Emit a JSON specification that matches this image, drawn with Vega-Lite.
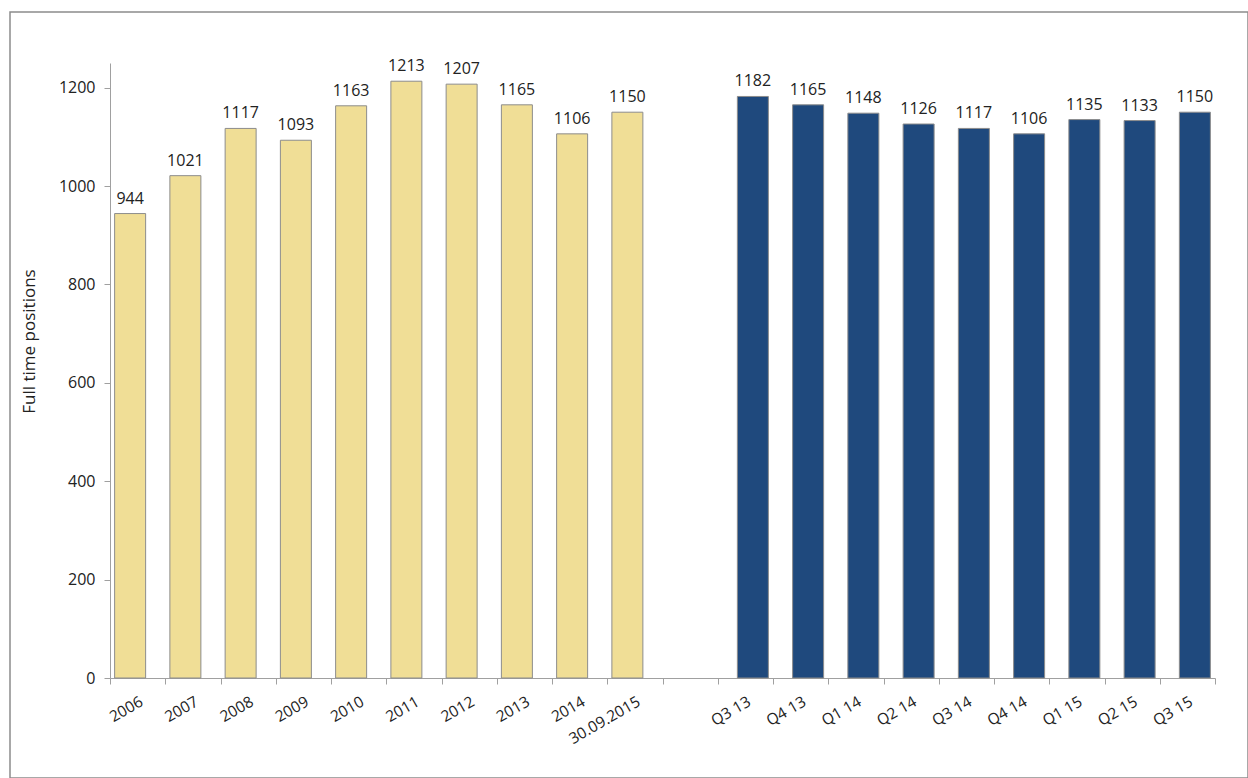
{
  "$schema": "https://vega.github.io/schema/vega-lite/v6.json",
  "width": 1238,
  "height": 766,
  "autosize": {"type": "none"},
  "padding": {"left": 10, "top": 12, "right": 0, "bottom": 0},
  "background": "white",
  "config": {
    "font": "Open Sans",
    "view": {"stroke": "#8c8c8c", "strokeWidth": 1.5}
  },
  "data": {
    "values": [
      {"period": "2006", "series": "Annual", "positions": 944},
      {"period": "2007", "series": "Annual", "positions": 1021},
      {"period": "2008", "series": "Annual", "positions": 1117},
      {"period": "2009", "series": "Annual", "positions": 1093},
      {"period": "2010", "series": "Annual", "positions": 1163},
      {"period": "2011", "series": "Annual", "positions": 1213},
      {"period": "2012", "series": "Annual", "positions": 1207},
      {"period": "2013", "series": "Annual", "positions": 1165},
      {"period": "2014", "series": "Annual", "positions": 1106},
      {"period": "30.09.2015", "series": "Annual", "positions": 1150},
      {"period": "Q3 13", "series": "Quarterly", "positions": 1182},
      {"period": "Q4 13", "series": "Quarterly", "positions": 1165},
      {"period": "Q1 14", "series": "Quarterly", "positions": 1148},
      {"period": "Q2 14", "series": "Quarterly", "positions": 1126},
      {"period": "Q3 14", "series": "Quarterly", "positions": 1117},
      {"period": "Q4 14", "series": "Quarterly", "positions": 1106},
      {"period": "Q1 15", "series": "Quarterly", "positions": 1135},
      {"period": "Q2 15", "series": "Quarterly", "positions": 1133},
      {"period": "Q3 15", "series": "Quarterly", "positions": 1150}
    ]
  },
  "encoding": {
    "x": {
      "field": "period",
      "type": "nominal",
      "scale": {
        "domain": ["2006", "2007", "2008", "2009", "2010", "2011", "2012", "2013", "2014", "30.09.2015", "gap", "Q3 13", "Q4 13", "Q1 14", "Q2 14", "Q3 14", "Q4 14", "Q1 15", "Q2 15", "Q3 15"],
        "range": [100, 1205],
        "paddingInner": 0,
        "paddingOuter": 0
      },
      "axis": {
        "title": null,
        "offset": -100,
        "labelAngle": -30,
        "labelAlign": "right",
        "labelBaseline": "top",
        "labelPadding": 10,
        "labelFontSize": 15.5,
        "labelColor": "#222222",
        "labelOverlap": false,
        "labelExpr": "datum.value == 'gap' ? '' : datum.value",
        "tickBand": "extent",
        "tickSize": 6,
        "tickColor": "#a0a0a0",
        "domainColor": "#a0a0a0",
        "grid": false
      }
    },
    "xOffset": {
      "field": "series",
      "type": "nominal",
      "scale": {"domain": ["Annual", "Quarterly"], "paddingInner": 0, "paddingOuter": 0.843}
    },
    "y": {
      "field": "positions",
      "type": "quantitative",
      "scale": {"domain": [0, 1250], "range": [666, 51], "nice": false},
      "axis": {
        "title": "Full time positions",
        "titleFontSize": 17,
        "titleFontWeight": "normal",
        "titleColor": "#222222",
        "titlePadding": 20,
        "titleY": 329,
        "offset": -100,
        "values": [0, 200, 400, 600, 800, 1000, 1200],
        "format": "d",
        "labelFontSize": 16,
        "labelColor": "#222222",
        "labelPadding": 9,
        "tickSize": 6,
        "tickColor": "#a0a0a0",
        "domainColor": "#a0a0a0",
        "grid": false
      }
    }
  },
  "layer": [
    {
      "mark": {"type": "bar", "width": 31, "stroke": "#8c8c8c", "strokeWidth": 1},
      "encoding": {
        "color": {
          "field": "series",
          "type": "nominal",
          "scale": {"domain": ["Annual", "Quarterly"], "range": ["#F0DE96", "#1F497D"]},
          "legend": null
        }
      }
    },
    {
      "mark": {"type": "text", "baseline": "alphabetic", "dy": -10, "fontSize": 16, "color": "#222222"},
      "encoding": {
        "text": {"field": "positions", "type": "quantitative", "format": "d"}
      }
    }
  ]
}
